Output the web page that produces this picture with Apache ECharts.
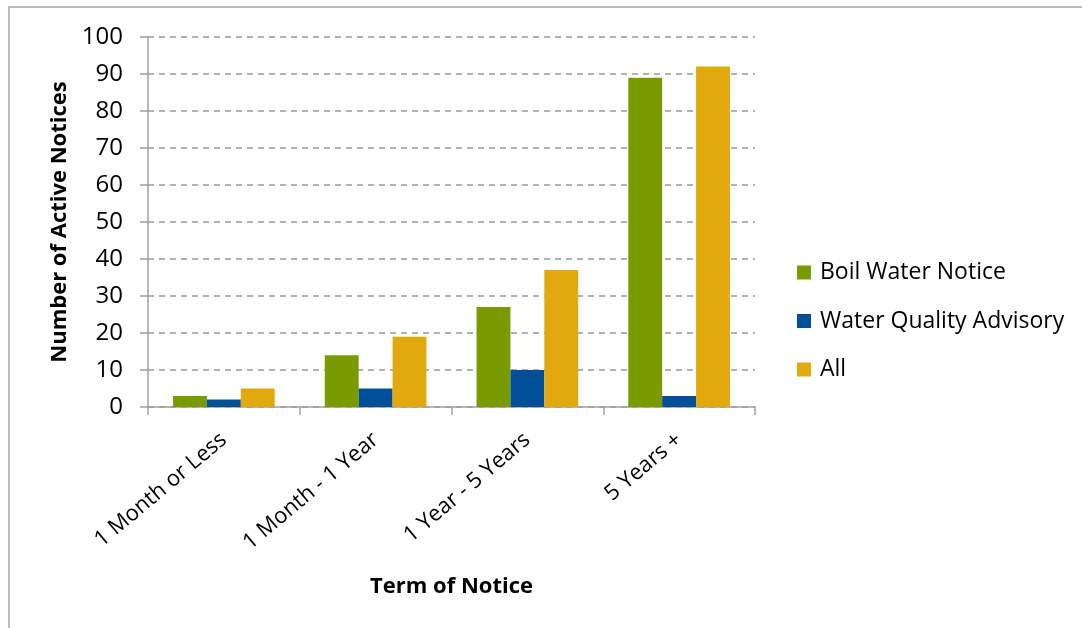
<!DOCTYPE html>
<html>
<head>
<meta charset="utf-8">
<script src="https://cdn.jsdelivr.net/npm/echarts@6/dist/echarts.min.js"></script>
<style>html,body{margin:0;padding:0;background:#fff}#c{width:1082px;height:628px}</style>
</head>
<body>
<div id="c"></div>
<script>
const categories = ['1 Month or Less', '1 Month - 1 Year', '1 Year - 5 Years', '5 Years +'];
const boilWater = [3, 14, 27, 89];
const waterQuality = [2, 5, 10, 3];
const allNotices = [5, 19, 37, 92];
const yTicks = { min: 0, max: 100, interval: 10 };

const FONT = '"Open Sans", "Noto Sans", sans-serif';
const chart = echarts.init(document.getElementById('c'), null, { renderer: 'canvas' });
chart.setOption({
  animation: false,
  backgroundColor: '#fff',
  graphic: [{
    type: 'rect', shape: { x: 9, y: 7, width: 2000, height: 2000 },
    style: { fill: 'none', stroke: '#a6a6a6', lineWidth: 1.5 }, silent: true, z: -1
  }],
  grid: { left: 148, top: 37, right: 327, bottom: 221, containLabel: false },
  legend: {
    orient: 'vertical', left: 792, top: 256,
    itemWidth: 14, itemHeight: 14, itemGap: 25.5,
    icon: 'rect',
    textStyle: { fontFamily: FONT, fontSize: 23, color: '#000', lineHeight: 23, padding: [0, 0, 0, 4] },
    data: ['Boil Water Notice', 'Water Quality Advisory', 'All']
  },
  xAxis: {
    type: 'category', data: categories,
    name: 'Term of Notice', nameLocation: 'middle', nameGap: 169,
    nameTextStyle: { fontFamily: FONT, fontSize: 22, fontWeight: 'bold', color: '#000' },
    axisLine: { lineStyle: { color: '#a0a0a0', width: 1.5 } },
    axisTick: { show: true, length: 8, lineStyle: { color: '#a0a0a0', width: 1.5 } },
    axisLabel: { rotate: 40, fontFamily: FONT, fontSize: 22, color: '#000', margin: 30, interval: 0 }
  },
  yAxis: {
    type: 'value', min: yTicks.min, max: yTicks.max, interval: yTicks.interval,
    name: 'Number of Active Notices', nameLocation: 'middle', nameGap: 72,
    nameTextStyle: { fontFamily: FONT, fontSize: 22, fontWeight: 'bold', color: '#000' },
    axisLine: { show: true, lineStyle: { color: '#a0a0a0', width: 1.5 } },
    axisTick: { show: true, length: 8, lineStyle: { color: '#a0a0a0', width: 1.5 } },
    axisLabel: { fontFamily: FONT, fontSize: 24, color: '#000', margin: 25 },
    splitLine: { show: true, lineStyle: { color: '#999', type: [6, 5], width: 1.5 } }
  },
  series: [
    { name: 'Boil Water Notice', type: 'bar', data: boilWater, barGap: '0%', barCategoryGap: '33%', itemStyle: { color: '#7a9a01' } },
    { name: 'Water Quality Advisory', type: 'bar', data: waterQuality, barGap: '0%', barCategoryGap: '33%', itemStyle: { color: '#004f98' } },
    { name: 'All', type: 'bar', data: allNotices, barGap: '0%', barCategoryGap: '33%', itemStyle: { color: '#e1a90e' } }
  ]
});
</script>
</body>
</html>
